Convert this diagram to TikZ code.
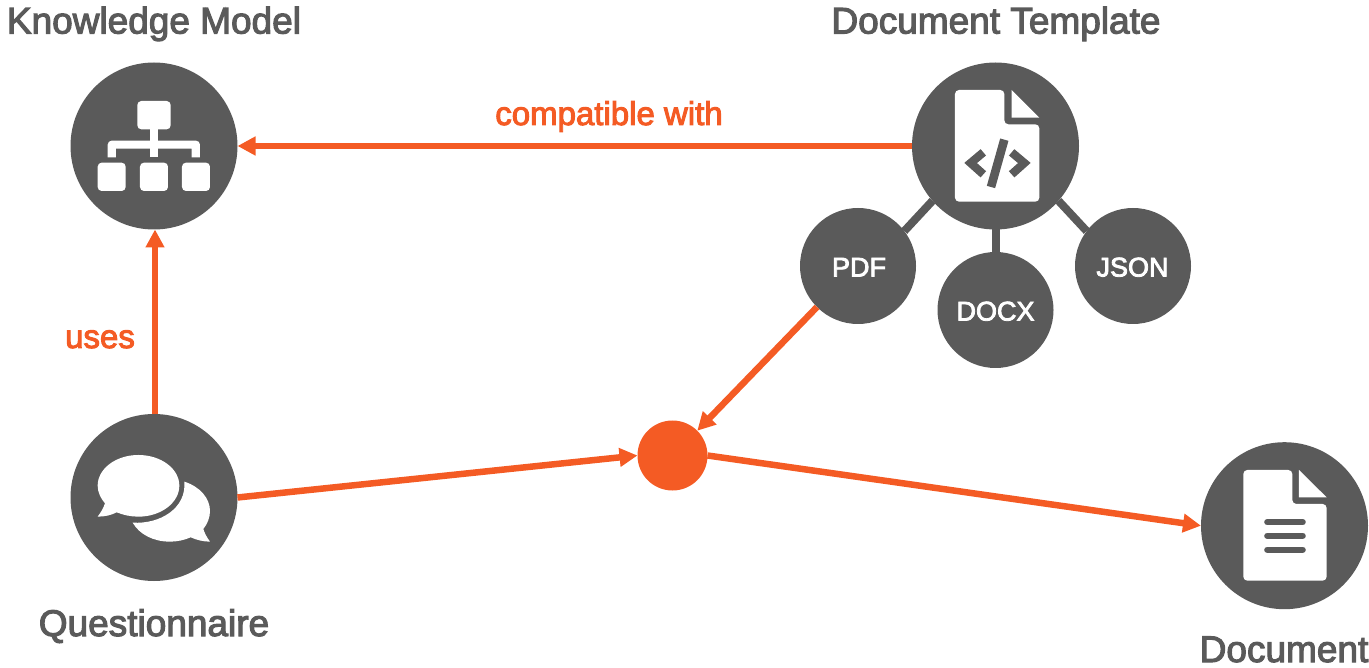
\documentclass[tikz,border=0pt]{standalone}
\usepackage{fontspec}
\setmainfont{Liberation Sans}[FakeBold=3]
\usetikzlibrary{arrows.meta}
\definecolor{ink}{HTML}{5A5A5A}
\definecolor{accent}{HTML}{F45B24}
\tikzset{
  bigc/.style={circle,fill=ink,minimum size=167pt,inner sep=0pt,outer sep=0pt},
  smallc/.style={circle,fill=ink,minimum size=116pt,inner sep=0pt,outer sep=0pt},
  smalltext/.style={text=white,font=\fontsize{27}{27}\selectfont,inner sep=0pt,anchor=base},
  hubc/.style={circle,fill=accent,minimum size=70pt,inner sep=0pt,outer sep=0pt},
  title/.style={text=ink,font=\fontsize{37}{37}\selectfont,inner sep=0pt,anchor=base},
  flowlabel/.style={text=accent,font=\fontsize{33}{33}\selectfont,inner sep=0pt,anchor=base},
  flow/.style={draw=accent,line width=6.5pt,-{Triangle[length=18pt,width=18pt]}},
  plain/.style={draw=ink,line width=8pt},
  iconw/.style={fill=white,draw=none},
  icong/.style={draw=ink,line width=8.3pt}
}
\begin{document}
\begin{tikzpicture}[x=1pt,y=-1pt]
\useasboundingbox (0,0) rectangle (1369,668);
\node[bigc] (km) at (154,146) {};
\node[bigc] (q) at (154,497.5) {};
\node[bigc] (dt) at (995.5,146) {};
\node[bigc] (doc) at (1284.5,525.7) {};
\node[smallc] (pdf) at (858,266) {};
\node[smallc] (docx) at (995.5,310) {};
\node[smallc] (json) at (1133,266) {};
\node[hubc] (hub) at (672.5,455.5) {};
\node[smalltext] (pdft) at (859,276.5) {PDF};
\node[smalltext] (docxt) at (995.5,320.5) {DOCX};
\node[smalltext] (jsont) at (1132.5,276.5) {JSON};
\draw[plain] (dt.270) -- (docx.90);
\draw[plain] (dt.221) -- (pdf.37);
\draw[plain] (dt.319) -- (json.143);
\draw[flow] (dt.180) -- (km.0);
\draw[flow] ([xshift=1pt]q.90) -- ([xshift=1pt]km.270);
\draw[flow] (q.0) -- (hub.180);
\draw[flow] (pdf.225) -- (hub.45);
\draw[flow] (hub.0) -- (doc.180);
\node[title] (t1) at (154,33.5) {Knowledge Model};
\node[title] (t2) at (996,33.5) {Document Template};
\node[title] (t3) at (154,636) {Questionnaire};
\node[title] (t4) at (1284,662) {Document};
\node[flowlabel] (l1) at (609,125) {compatible with};
\node[flowlabel] (l2) at (100,348) {uses};
% knowledge model icon
\begin{scope}[x=0.33333pt,y=-0.33333pt,shift={(180,150)}]
\fill[iconw,rounded corners=4pt] (232,153) rectangle (332,238);
\fill[iconw,rounded corners=4pt] (113,338) rectangle (197,423);
\fill[iconw,rounded corners=4pt] (240,338) rectangle (324,423);
\fill[iconw,rounded corners=4pt] (366,338) rectangle (450,423);
\fill[iconw] (270,238) rectangle (295,322);
\fill[iconw] (143,322) -- (143,290) [rounded corners=4pt] -- (143,272) -- (420,272) [sharp corners] -- (420,322) -- (395,322) -- (395,296) -- (168,296) -- (168,322) -- cycle;
\end{scope}
% questionnaire icon
\begin{scope}[x=0.33333pt,y=-0.33333pt,shift={(180,1215)}]
\fill[iconw] (235,150) .. controls (303,150) and (358,191) .. (358,242)
  .. controls (358,293) and (303,335) .. (235,335)
  .. controls (212,335) and (190,330) .. (170,322)
  .. controls (155,330) and (135,335) .. (113,335)
  .. controls (122,323) and (130,310) .. (135,295)
  .. controls (122,280) and (113,262) .. (113,242)
  .. controls (113,191) and (168,150) .. (235,150) -- cycle;
\fill[iconw] (373,230) .. controls (420,245) and (450,280) .. (450,318)
  .. controls (450,338) and (442,357) .. (430,372)
  .. controls (434,385) and (441,398) .. (450,410)
  .. controls (430,410) and (410,405) .. (392,397)
  .. controls (374,405) and (352,410) .. (330,410)
  .. controls (280,410) and (238,388) .. (218,353)
  .. controls (300,358) and (380,310) .. (373,230) -- cycle;
\end{scope}
% template icon
\begin{scope}[x=0.33333pt,y=-0.33333pt,shift={(2700,165)}]
\fill[iconw,rounded corners=4pt] (165,105) -- (313,105) -- (313,208) -- (418,208) -- (418,440) -- (165,440) -- cycle;
\fill[iconw] (335,105) -- (418,188) -- (335,188) -- cycle;
\draw[icong] (250,292) -- (212,324) -- (250,358);
\draw[icong] (335,292) -- (373,324) -- (335,358);
\draw[ink,line width=8.6pt] (313,254) -- (273,396);
\end{scope}
% document icon
\begin{scope}[x=0.33333pt,y=-0.33333pt,shift={(3570,1305)}]
\fill[iconw,rounded corners=4pt] (160,105) -- (307,105) -- (307,207) -- (410,207) -- (410,437) -- (160,437) -- cycle;
\fill[iconw] (327,105) -- (410,187) -- (327,187) -- cycle;
\draw[ink,line width=6.3pt,line cap=round] (232,261.5) -- (338,261.5);
\draw[ink,line width=6.3pt,line cap=round] (232,302.5) -- (338,302.5);
\draw[ink,line width=6.3pt,line cap=round] (232,344) -- (338,344);
\end{scope}
\end{tikzpicture}
\end{document}
